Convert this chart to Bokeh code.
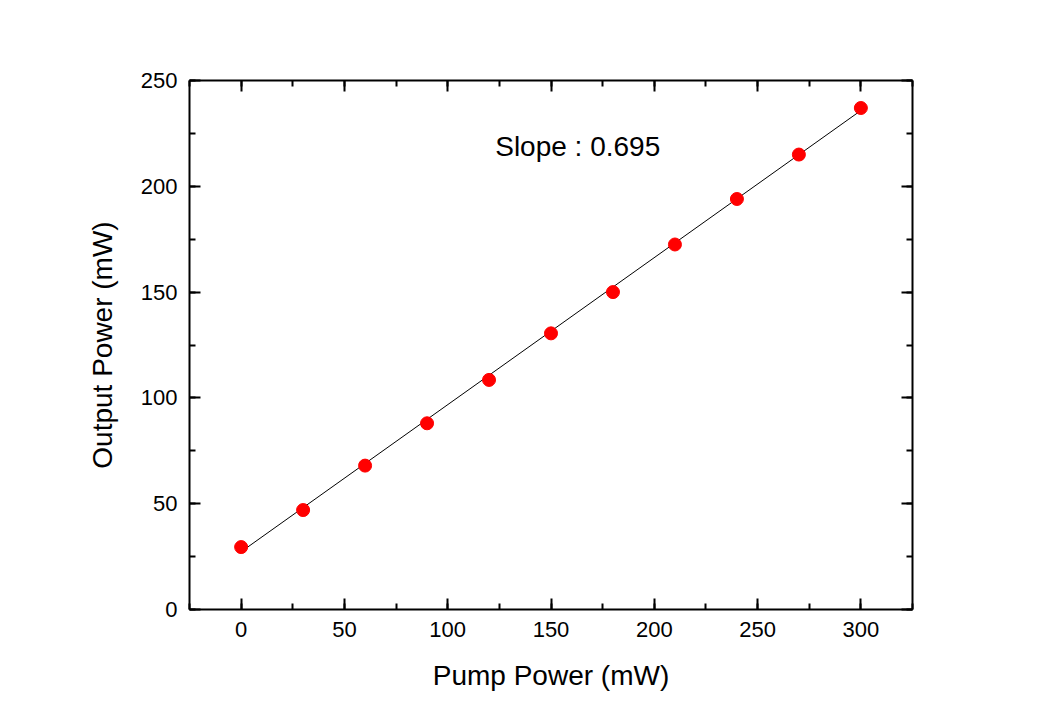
from bokeh.plotting import figure
from bokeh.models import LinearAxis, SingleIntervalTicker, Range1d, Label
from bokeh.embed import file_html
from bokeh.resources import INLINE

pump_power = [0, 30, 60, 90, 120, 150, 180, 210, 240, 270, 300]
output_power = [29.5, 47, 68, 88, 108.5, 130.5, 150, 172.5, 194, 215, 237]
fit_x = [0, 300]
fit_y = [27.3, 235.8]
slope_text = "Slope : 0.695"

FONT = "Liberation Sans"

p = figure(width=1055, height=728, output_backend="svg", toolbar_location=None,
           x_range=Range1d(-25, 325), y_range=Range1d(0, 250),
           min_border_left=189, min_border_right=143, min_border_top=80, min_border_bottom=119,
           x_axis_label="Pump Power (mW)", y_axis_label="Output Power (mW)")
p.background_fill_color = "white"
p.border_fill_color = "white"
p.outline_line_color = None
p.xgrid.visible = False
p.ygrid.visible = False

p.line(fit_x, fit_y, line_color="black", line_width=1)
p.scatter(pump_power, output_power, size=13, fill_color="#ff0000", line_color="#ff0000")

p.add_layout(Label(x=123, y=219, text=slope_text, text_font=FONT, text_font_size="28px",
                   text_baseline="middle", text_color="black"))

p.add_layout(LinearAxis(), "above")
p.add_layout(LinearAxis(), "right")

for ax in p.xaxis:
    ax.ticker = SingleIntervalTicker(interval=50, num_minor_ticks=2)
for ax in p.yaxis:
    ax.ticker = SingleIntervalTicker(interval=50, num_minor_ticks=2)

for ax in p.axis:
    ax.axis_line_width = 2
    ax.axis_line_color = "black"
    ax.major_tick_line_width = 2
    ax.minor_tick_line_width = 2
    ax.major_tick_in = 11
    ax.major_tick_out = 0
    ax.minor_tick_in = 6
    ax.minor_tick_out = 0
    ax.major_label_text_font = FONT
    ax.major_label_text_font_size = "22px"
    ax.major_label_text_color = "black"
    ax.major_label_standoff = 12
    ax.axis_label_text_font = FONT
    ax.axis_label_text_font_size = "28px"
    ax.axis_label_text_font_style = "normal"
    ax.axis_label_text_color = "black"
    ax.axis_label_standoff = 20

p.above[0].major_label_text_color = None
p.right[0].major_label_text_color = None
p.above[0].axis_label = None
p.right[0].axis_label = None

open("out.html", "w").write(file_html(p, INLINE))
